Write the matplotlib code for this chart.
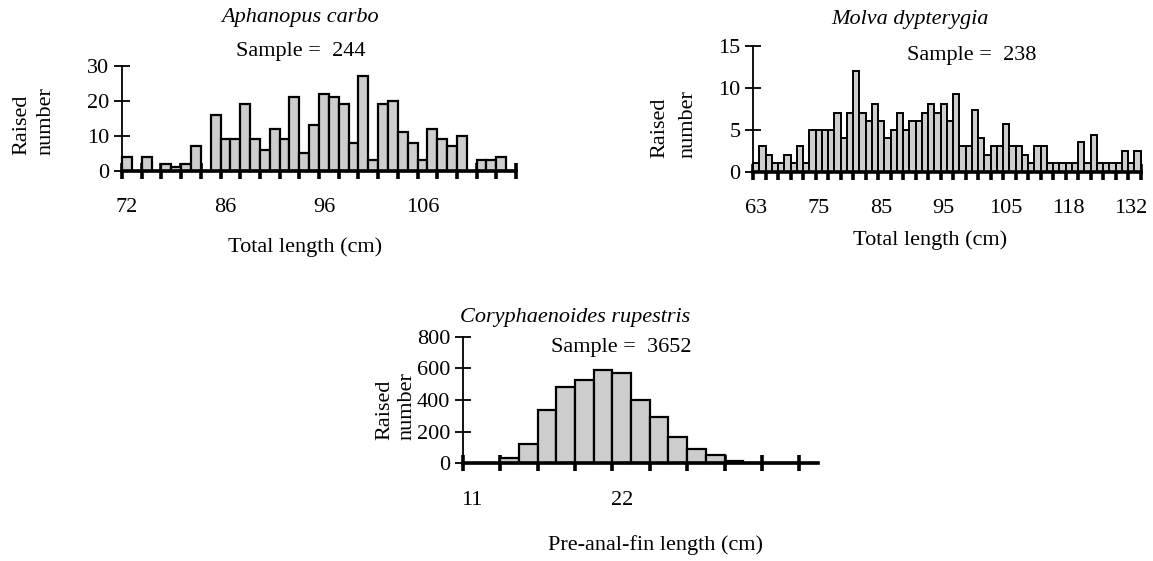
import matplotlib
matplotlib.use("Agg")
import matplotlib.pyplot as plt

plt.rcParams["font.family"] = ["Liberation Serif", "DejaVu Serif"]

W, H = 1153, 561

# Aphanopus carbo - raised numbers per length class
carbo_counts = [4, 0, 4, 0, 2, 1, 2, 7, 0, 16, 9, 9, 19, 9, 6, 12, 9, 21, 5, 13,
                22, 21, 19, 8, 27, 3, 19, 20, 11, 8, 3, 12, 9, 7, 10, 0, 3, 3, 4, 0]
carbo_labels = ["72", "86", "96", "106"]
carbo_label_pos = [0, 10, 20, 30]
carbo_yticks = [0, 10, 20, 30]

# Molva dypterygia
molva_counts = [1, 3, 2, 1, 1, 2, 1, 3, 1, 5, 5, 5, 5, 7, 4, 7, 12, 7, 6, 8,
                6, 4, 5, 7, 5, 6, 6, 7, 8, 7, 8, 6, 9.3, 3, 3, 7.4, 4, 2, 3, 3,
                5.7, 3, 3, 2, 1, 3, 3, 1, 1, 1, 1, 1, 3.5, 1, 4.4, 1, 1, 1, 1, 2.5,
                1, 2.5]
molva_labels = ["63", "75", "85", "95", "105", "118", "132"]
molva_label_pos = [0, 10, 20, 30, 40, 50, 60]
molva_yticks = [0, 5, 10, 15]

# Coryphaenoides rupestris
rup_counts = [0, 0, 32, 125, 337, 480, 526, 590, 568, 400, 295, 168, 90, 50,
              17, 5, 2, 1, 1]
rup_labels = ["11", "22"]
rup_label_pos = [0, 8]
rup_yticks = [0, 200, 400, 600, 800]

FS = 16


def px_axes(left, right, top, bottom):
    return fig.add_axes([left / W, 1 - bottom / H, (right - left) / W, (bottom - top) / H])


def ftext(x, y, s, **kw):
    fig.text(x / W, 1 - y / H, s, fontsize=kw.pop("fontsize", FS), **kw)


def draw_hist(ax, counts, yticks, labels, label_pos, edge_lw):
    n = len(counts)
    ax.bar(range(n), counts, width=1.0, color="#cdcdcd", edgecolor="black",
           linewidth=edge_lw, clip_on=False, zorder=2)
    ax.set_xlim(-0.5, n - 0.5)
    ax.set_ylim(0, yticks[-1])
    for s in ["top", "right"]:
        ax.spines[s].set_visible(False)
    ax.spines["left"].set_linewidth(1.3)
    ax.spines["bottom"].set_linewidth(2.6)
    ax.spines["bottom"].set_zorder(3)
    ax.set_yticks(yticks)
    ax.tick_params(axis="y", direction="inout", length=12, width=1.3,
                   labelsize=FS, pad=3)
    ax.set_xticks([i - 0.5 for i in range(0, n + 1, 2)])
    ax.set_xticklabels([])
    ax.tick_params(axis="x", which="major", direction="inout", length=11,
                   width=2.6)
    ax.set_xticks(label_pos, minor=True)
    ax.set_xticklabels(labels, minor=True)
    ax.tick_params(axis="x", which="minor", length=0, labelsize=FS, pad=20)
    ax.patch.set_alpha(0)


fig = plt.figure(figsize=(W / 100, H / 100), dpi=100)

# panel 1
ax1 = px_axes(122, 516, 66, 170.5)
draw_hist(ax1, carbo_counts, carbo_yticks, carbo_labels, carbo_label_pos, 1.6)
ftext(300, 22, "Aphanopus carbo", ha="center", va="baseline", style="italic")
ftext(301, 56, "Sample =  244", ha="center", va="baseline")
ftext(22, 155, "Raised", rotation=90, ha="center", va="bottom")
ftext(46, 155, "number", rotation=90, ha="center", va="bottom")
ftext(305, 247, "Total length (cm)", ha="center", va="center")

# panel 2
ax2 = px_axes(753, 1140.5, 45.7, 171.7)
draw_hist(ax2, molva_counts, molva_yticks, molva_labels, molva_label_pos, 1.4)
ftext(910, 24, "Molva dypterygia", ha="center", va="baseline", style="italic")
ftext(972, 60, "Sample =  238", ha="center", va="baseline")
ftext(660, 158, "Raised", rotation=90, ha="center", va="bottom")
ftext(688, 158, "number", rotation=90, ha="center", va="bottom")
ftext(930, 240, "Total length (cm)", ha="center", va="center")

# panel 3
ax3 = px_axes(462.7, 818, 336.7, 463.3)
draw_hist(ax3, rup_counts, rup_yticks, rup_labels, rup_label_pos, 1.6)
ftext(575, 322, "Coryphaenoides rupestris", ha="center", va="baseline", style="italic")
ftext(621, 352, "Sample =  3652", ha="center", va="baseline")
ftext(385, 440, "Raised", rotation=90, ha="center", va="bottom")
ftext(407, 440, "number", rotation=90, ha="center", va="bottom")
ftext(655, 545, "Pre-anal-fin length (cm)", ha="center", va="center")

fig.savefig("out.png", dpi=100)
